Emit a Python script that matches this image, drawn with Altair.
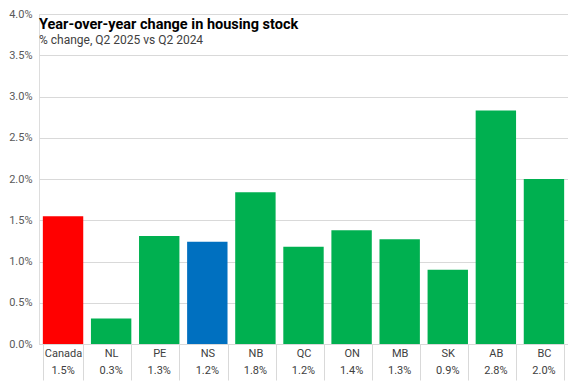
import altair as alt
import pandas as pd

regions = ["Canada", "NL", "PE", "NS", "NB", "QC", "ON", "MB", "SK", "AB", "BC"]
changes = [1.55, 0.31, 1.31, 1.24, 1.84, 1.18, 1.38, 1.27, 0.90, 2.83, 2.00]
value_labels = ["1.5%", "0.3%", "1.3%", "1.2%", "1.8%", "1.2%", "1.4%", "1.3%", "0.9%", "2.8%", "2.0%"]
bar_colors = ["#FF0000", "#00B050", "#00B050", "#0070C0", "#00B050", "#00B050",
              "#00B050", "#00B050", "#00B050", "#00B050", "#00B050"]
y_ticks = [0.0, 0.005, 0.01, 0.015, 0.02, 0.025, 0.03, 0.035, 0.04]
title_text = "Year-over-year change in housing stock"
subtitle_text = "% change, Q2 2025 vs Q2 2024"

df = pd.DataFrame({
    "region": regions,
    "change": [v / 100 for v in changes],
    "label": value_labels,
    "color": bar_colors,
})

W, H = 529, 330
TICK = 36
FONT = "Roboto"

x_enc = alt.X(
    "region:N", sort=regions,
    scale=alt.Scale(paddingInner=0.16, paddingOuter=0.08),
    axis=alt.Axis(
        title=None, labelAngle=0, tickBand="extent", tickSize=TICK,
        tickColor="#d9d9d9", domainColor="#d9d9d9", labelPadding=9 - TICK,
        labelBaseline="middle", labelFont=FONT, labelFontSize=11,
        labelColor="#404040",
    ),
)

bars = alt.Chart(df).mark_bar().encode(
    x=x_enc,
    y=alt.Y(
        "change:Q",
        scale=alt.Scale(domain=[0, 0.04], nice=False),
        axis=alt.Axis(
            title=None, values=y_ticks, format=".1%", grid=True,
            gridColor="#d9d9d9", domain=False, ticks=False, labelPadding=7,
            labelFont=FONT, labelFontSize=11, labelColor="#595959",
        ),
    ),
    color=alt.Color("color:N", scale=None),
)

vals = alt.Chart(df).mark_text(
    baseline="middle", font=FONT, fontSize=11, color="#404040"
).encode(
    x=x_enc,
    y=alt.value(H + 27),
    text="label:N",
)

title = alt.Chart(pd.DataFrame({"t": [title_text]})).mark_text(
    align="left", baseline="alphabetic", font=FONT, fontWeight="bold",
    fontSize=14.5, color="#000000"
).encode(x=alt.value(0), y=alt.value(15), text="t:N")

subtitle = alt.Chart(pd.DataFrame({"t": [subtitle_text]})).mark_text(
    align="left", baseline="alphabetic", font=FONT,
    fontSize=12, color="#404040"
).encode(x=alt.value(0), y=alt.value(30), text="t:N")

chart = alt.layer(bars, vals, title, subtitle).properties(
    width=W, height=H,
    padding={"left": 0, "top": 0, "right": 0, "bottom": 0},
).configure_view(stroke=None).configure(background="white")

chart.save("out.html", embed_options={"renderer": "svg", "actions": False})
